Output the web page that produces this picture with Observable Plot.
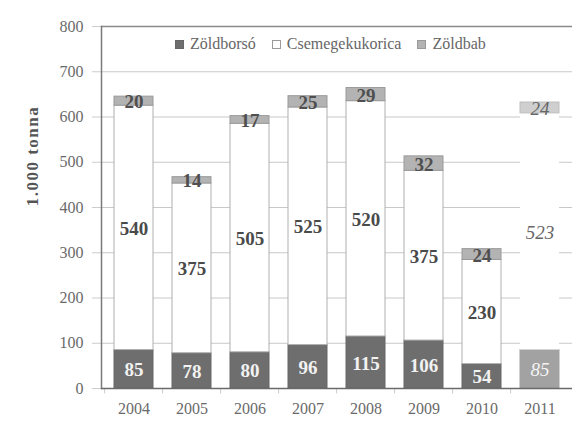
<!DOCTYPE html>
<html>
<head>
<meta charset="utf-8">
<script src="https://cdn.jsdelivr.net/npm/d3@7"></script>
<script src="https://cdn.jsdelivr.net/npm/@observablehq/plot@0.6"></script>
<style>
  html, body { margin: 0; padding: 0; background: #fff; }
  #wrap { position: relative; width: 572px; height: 427px; overflow: hidden; }
  #ytitle { position: absolute; left: 33px; top: 156px; transform: translate(-50%, -50%) rotate(-90deg);
    font: bold 17px "Liberation Serif", serif; color: #555; letter-spacing: 1.5px; white-space: nowrap; }
  #legend { position: absolute; top: 35px; left: 175px; font: 16px "Liberation Serif", serif; color: #666;
    display: flex; align-items: center; white-space: nowrap; }
  #legend .sw { display: inline-block; width: 9px; height: 9px; margin-right: 6px; box-sizing: border-box; }
  #legend .item { display: flex; align-items: center; margin-right: 16px; }
</style>
</head>
<body>
<div id="wrap">
  <div id="chart"></div>
  <div id="ytitle">1.000 tonna</div>
  <div id="legend"></div>
</div>
<script>
const years = ["2004", "2005", "2006", "2007", "2008", "2009", "2010", "2011"];
const seriesNames = ["Zöldborsó", "Csemegekukorica", "Zöldbab"];
const zoldborso = [85, 78, 80, 96, 115, 106, 54, 85];
const csemegekukorica = [540, 375, 505, 525, 520, 375, 230, 523];
const zoldbab = [20, 14, 17, 25, 29, 32, 24, 24];
const yTicks = [0, 100, 200, 300, 400, 500, 600, 700, 800];
const estimateYear = "2011";

const seriesValues = [zoldborso, csemegekukorica, zoldbab];
const fills = {
  "Zöldborsó": "#6e6e6e",
  "Csemegekukorica": "#ffffff",
  "Zöldbab": "#b3b3b3"
};
const estFills = {
  "Zöldborsó": "#a2a2a2",
  "Csemegekukorica": "#ffffff",
  "Zöldbab": "#cfcfcf"
};
const strokes = {
  "Zöldborsó": "#666666",
  "Csemegekukorica": "#b0b0b0",
  "Zöldbab": "#9a9a9a"
};
const estStrokes = {
  "Zöldborsó": "#a2a2a2",
  "Csemegekukorica": "none",
  "Zöldbab": "#bdbdbd"
};
const labelFill = {
  "Zöldborsó": "#f2f2f2",
  "Csemegekukorica": "#4a4a4a",
  "Zöldbab": "#4f4f4f"
};
const estLabelFill = {
  "Zöldborsó": "#f4f4f4",
  "Csemegekukorica": "#666666",
  "Zöldbab": "#666666"
};

const data = [];
years.forEach((y, i) => {
  seriesNames.forEach((s, k) => {
    data.push({year: y, series: s, value: seriesValues[k][i], est: y === estimateYear});
  });
});
const actual = data.filter(d => !d.est);
const estimate = data.filter(d => d.est);

const chart = Plot.plot({
  width: 572,
  height: 427,
  marginTop: 26,
  marginBottom: 39,
  marginLeft: 101,
  marginRight: 0,
  style: {background: "transparent"},
  x: {domain: years, paddingInner: 0.32, paddingOuter: 0.17, label: null},
  y: {domain: [0, 800], label: null},
  color: {type: "identity"},
  marks: [
    Plot.ruleY(yTicks.filter(t => t > 0 && t < 800), {stroke: "#c8c8c8", strokeWidth: 1}),
    Plot.ruleY([800], {stroke: "#8a8a8a", strokeWidth: 1.5}),
    Plot.barY(actual, Plot.stackY({
      x: "year", y: "value",
      fill: d => fills[d.series], stroke: d => strokes[d.series], strokeWidth: 1
    })),
    Plot.barY(estimate, Plot.stackY({
      x: "year", y: "value",
      fill: d => estFills[d.series], stroke: d => estStrokes[d.series], strokeWidth: 1
    })),
    Plot.text(actual, Plot.stackY({
      x: "year", y: "value", text: d => String(d.value),
      fill: d => labelFill[d.series],
      fontSize: 19, fontWeight: "bold", fontFamily: "Liberation Serif, serif", dy: 1
    })),
    Plot.text(estimate, Plot.stackY({
      x: "year", y: "value", text: d => String(d.value),
      fill: d => estLabelFill[d.series],
      fontSize: 19, fontStyle: "italic", fontFamily: "Liberation Serif, serif", dy: 1
    })),
    Plot.ruleX(years, {x: d => d, y1: 0, y2: -12, dx: -29.4, stroke: "#cccccc"}),
    Plot.axisY({ticks: yTicks, tickSize: 9, tickPadding: 9, stroke: "#cccccc",
      fill: "#6a6a6a", fontSize: 16, fontFamily: "Liberation Serif, serif", label: null}),
    Plot.axisX({tickSize: 0, tickPadding: 14, fill: "#6a6a6a", fontSize: 16,
      fontFamily: "Liberation Serif, serif", label: null}),
    Plot.frame({anchor: "left", stroke: "#7a7a7a", strokeWidth: 1.5}),
    Plot.ruleY([0], {stroke: "#6a6a6a", strokeWidth: 1.5})
  ]
});
document.getElementById("chart").appendChild(chart);

const legend = document.getElementById("legend");
seriesNames.forEach(s => {
  const item = document.createElement("span");
  item.className = "item";
  const sw = document.createElement("span");
  sw.className = "sw";
  sw.style.background = fills[s];
  sw.style.border = "1px solid " + (s === "Csemegekukorica" ? "#999" : strokes[s]);
  const t = document.createElement("span");
  t.textContent = s;
  item.appendChild(sw);
  item.appendChild(t);
  legend.appendChild(item);
});
</script>
</body>
</html>
